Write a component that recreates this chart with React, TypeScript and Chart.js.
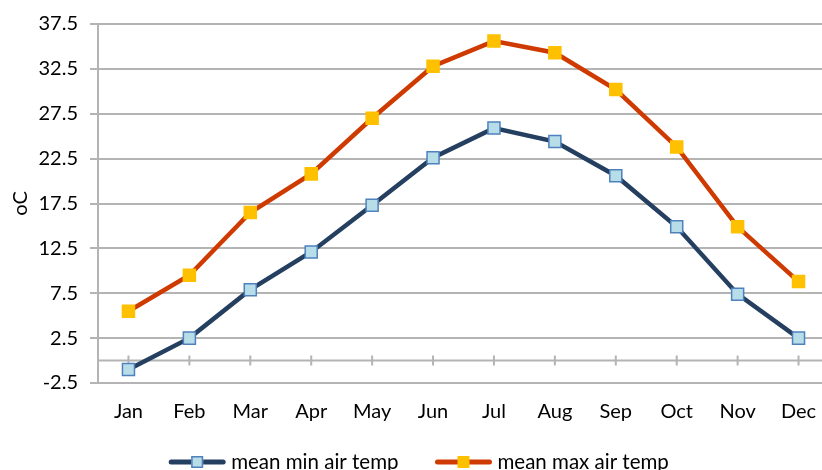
import React, { useEffect, useRef } from 'react';
import { Chart, registerables } from 'chart.js';

Chart.register(...registerables);

const months = ['Jan', 'Feb', 'Mar', 'Apr', 'May', 'Jun', 'Jul', 'Aug', 'Sep', 'Oct', 'Nov', 'Dec'];
const minTemp = [-1.0, 2.5, 7.9, 12.1, 17.3, 22.6, 25.9, 24.4, 20.6, 14.9, 7.4, 2.5];
const maxTemp = [5.5, 9.5, 16.5, 20.8, 27.0, 32.8, 35.6, 34.3, 30.2, 23.8, 14.9, 8.8];
const seriesLabels = ['mean min air temp', 'mean max air temp'];
const yTitle = 'oC';
const yMin = -2.5;
const yMax = 37.5;
const yStep = 5;

const FONT = 'Lato, "Open Sans", sans-serif';
const GRID = '#B4B4B4';
const LINE_COLORS = ['#243F60', '#CF3A00'];
const FILL_COLORS = ['#B7DDE8', '#FFC000'];
const EDGE_COLORS = ['#4F81BD', '#FFC000'];

const zeroLine = {
  id: 'zeroLine',
  beforeDatasetsDraw(chart: any) {
    const { ctx, chartArea, scales } = chart;
    const y = scales.y.getPixelForValue(0);
    ctx.save();
    ctx.strokeStyle = GRID;
    ctx.lineWidth = 2;
    ctx.beginPath();
    ctx.moveTo(chartArea.left, y);
    ctx.lineTo(chartArea.right, y);
    for (let i = 0; i < months.length; i++) {
      const x = scales.x.getPixelForValue(i);
      ctx.moveTo(x, y - 5);
      ctx.lineTo(x, y + 5);
    }
    ctx.stroke();
    ctx.restore();
  },
};

const customLegend = {
  id: 'customLegend',
  afterDraw(chart: any) {
    const { ctx } = chart;
    const font = `20.5px ${FONT}`;
    ctx.save();
    ctx.font = font;
    const iconW = 56;
    const textGap = 6;
    const itemGap = 37;
    const widths = seriesLabels.map((t) => ctx.measureText(t).width);
    const total = widths.reduce((a, w) => a + iconW + textGap + w, 0) + itemGap * (seriesLabels.length - 1);
    let x = 419 - total / 2;
    const y = 462;
    seriesLabels.forEach((t, i) => {
      ctx.strokeStyle = LINE_COLORS[i];
      ctx.lineWidth = 5;
      ctx.lineCap = 'round';
      ctx.beginPath();
      ctx.moveTo(x + 2, y);
      ctx.lineTo(x + iconW - 2, y);
      ctx.stroke();
      const cx = x + iconW / 2;
      ctx.fillStyle = FILL_COLORS[i];
      ctx.fillRect(cx - 6, y - 6, 12, 12);
      if (EDGE_COLORS[i] !== FILL_COLORS[i]) {
        ctx.strokeStyle = EDGE_COLORS[i];
        ctx.lineWidth = 1.5;
        ctx.strokeRect(cx - 5.25, y - 5.25, 10.5, 10.5);
      }
      ctx.fillStyle = '#000';
      ctx.textBaseline = 'middle';
      ctx.textAlign = 'left';
      ctx.fillText(t, x + iconW + textGap, y);
      x += iconW + textGap + widths[i] + itemGap;
    });
    ctx.restore();
  },
};

export default function App() {
  const ref = useRef<HTMLCanvasElement>(null);

  useEffect(() => {
    const chart = new Chart(ref.current!, {
      type: 'line',
      data: {
        labels: months,
        datasets: [
          {
            label: seriesLabels[0],
            data: minTemp,
            borderColor: LINE_COLORS[0],
            borderWidth: 4.5,
            pointStyle: 'rect',
            pointRadius: 8.5,
            pointBackgroundColor: FILL_COLORS[0],
            pointBorderColor: EDGE_COLORS[0],
            pointBorderWidth: 1.5,
            tension: 0,
          },
          {
            label: seriesLabels[1],
            data: maxTemp,
            borderColor: LINE_COLORS[1],
            borderWidth: 4.5,
            pointStyle: 'rect',
            pointRadius: 8.5,
            pointBackgroundColor: FILL_COLORS[1],
            pointBorderColor: EDGE_COLORS[1],
            pointBorderWidth: 1.5,
            tension: 0,
          },
        ],
      },
      options: {
        responsive: false,
        animation: false,
        layout: { padding: { top: 22, right: 11, left: 0, bottom: 47 } },
        plugins: {
          tooltip: { enabled: false },
          legend: { display: false },
        },
        scales: {
          x: {
            offset: true,
            grid: { display: false },
            border: { display: true, color: GRID, width: 2 },
            ticks: { color: '#000', font: { family: FONT, size: 20 }, padding: 9 },
          },
          y: {
            min: yMin,
            max: yMax,
            ticks: {
              stepSize: yStep,
              color: '#000',
              font: { family: FONT, size: 20 },
              padding: 12,
              callback: (v: any) => Number(v).toFixed(1),
            },
            grid: { color: GRID, lineWidth: 2, tickLength: 8 },
            border: { display: true, color: GRID, width: 2 },
            title: {
              display: true,
              text: yTitle,
              color: '#000',
              font: { family: FONT, size: 20 },
              padding: { top: 9, bottom: 0 },
            },
            afterFit: (s: any) => {
              s.width = 98;
            },
          },
        },
      },
      plugins: [zeroLine, customLegend],
    });
    return () => chart.destroy();
  }, []);

  return (
    <div style={{ position: 'absolute', left: 0, top: 0, width: 822, height: 470, overflow: 'hidden', background: '#fff' }}>
      <canvas ref={ref} width={840} height={480} />
    </div>
  );
}
